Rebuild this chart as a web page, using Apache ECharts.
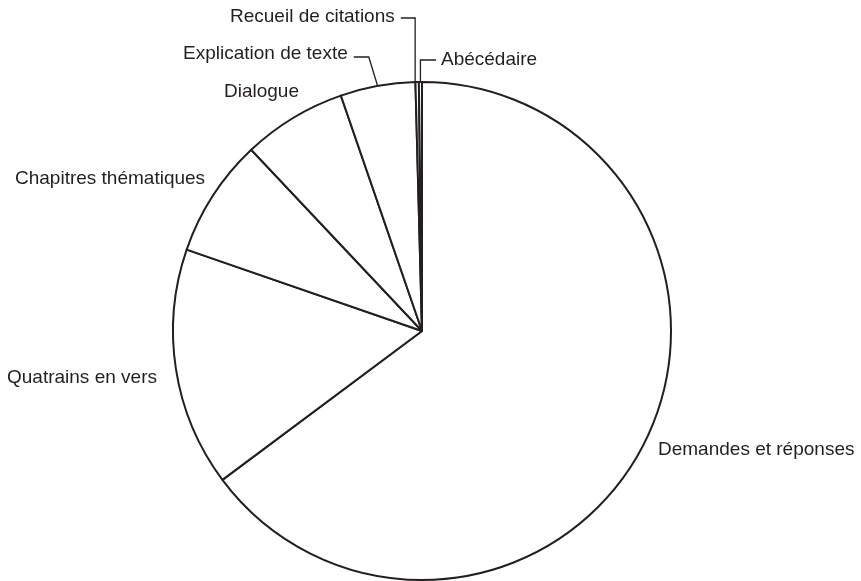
<!DOCTYPE html>
<html>
<head>
<meta charset="utf-8">
<script src="https://cdn.jsdelivr.net/npm/echarts@6/dist/echarts.min.js"></script>
<style>
html,body{margin:0;padding:0;background:#fff;}
#chart{width:861px;height:581px;}
</style>
</head>
<body>
<div id="chart"></div>
<script>
// Data (percent shares)
const categories = ["Demandes et réponses", "Quatrains en vers", "Chapitres thématiques", "Dialogue", "Explication de texte", "Recueil de citations", "Abécédaire"];
const values = [64.8, 15.5, 7.67, 6.75, 4.86, 0.22, 0.2];

// Label placement (style): [left x, center y, leader type]
const labelPos = {
  "Demandes et réponses": [658, 450, null],
  "Quatrains en vers": [7, 378, null],
  "Chapitres thématiques": [15, 179, null],
  "Dialogue": [224, 92, null],
  "Explication de texte": [183, 54, "right"],
  "Recueil de citations": [230, 17, "right"],
  "Abécédaire": [441, 60, "left"]
};

const ink = '#231f20';
const chart = echarts.init(document.getElementById('chart'), null, {renderer: 'canvas'});
const data = categories.map((c, i) => ({
  name: c,
  value: values[i],
  labelLine: {show: labelPos[c][2] !== null}
}));

chart.setOption({
  animation: false,
  backgroundColor: '#ffffff',
  series: [{
    type: 'pie',
    center: [422, 331],
    radius: 249,
    startAngle: 90,
    clockwise: true,
    avoidLabelOverlap: false,
    silent: true,
    data: data,
    itemStyle: {color: '#ffffff', borderColor: ink, borderWidth: 2},
    label: {
      show: true,
      position: 'outside',
      formatter: '{b}',
      color: ink,
      fontFamily: 'Liberation Sans, Arial, sans-serif',
      fontSize: 19
    },
    labelLine: {show: true, length: 10, length2: 10, lineStyle: {color: ink, width: 1.3}},
    labelLayout: function (p) {
      const name = categories[p.dataIndex];
      const pos = labelPos[name];
      const res = {x: pos[0], y: pos[1], align: 'left', verticalAlign: 'middle'};
      if (pos[2] && p.labelLinePoints) {
        const edge = p.labelLinePoints[0];
        const w = p.labelRect.width;
        if (pos[2] === 'right') {
          const x0 = pos[0] + w + 6;
          if (name === 'Recueil de citations') {
            const ex = [edge[0] - 2, edge[1]];
            res.labelLinePoints = [[x0, pos[1] + 1], [ex[0], pos[1] + 1], ex];
          } else {
            res.labelLinePoints = [[x0, pos[1] + 3], [x0 + 15, pos[1] + 3], edge];
          }
        } else {
          res.labelLinePoints = [[pos[0] - 5, pos[1]], [edge[0], pos[1]], edge];
        }
      }
      return res;
    }
  }]
});
</script>
</body>
</html>
